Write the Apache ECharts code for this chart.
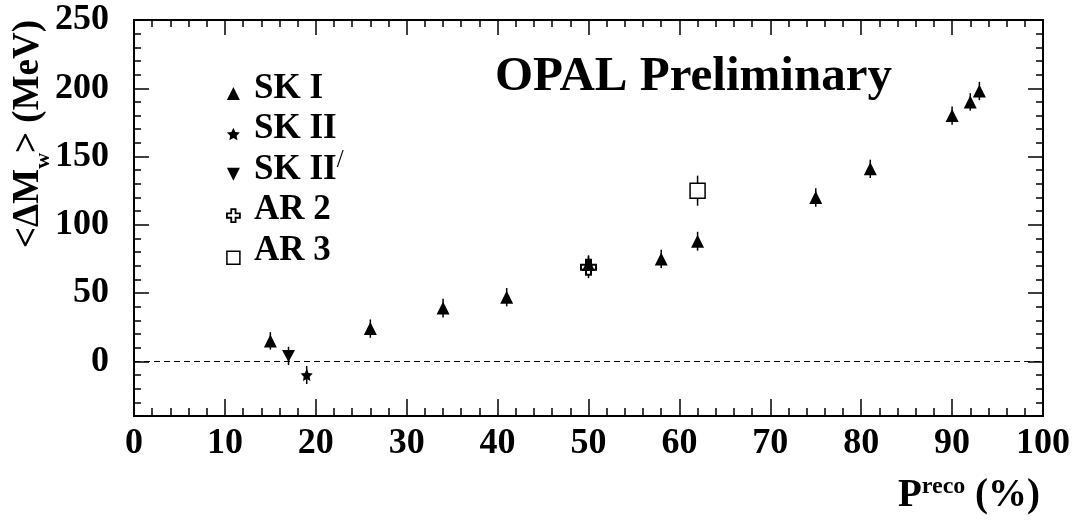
<!DOCTYPE html>
<html><head><meta charset="utf-8">
<script src="https://cdn.jsdelivr.net/npm/echarts@6/dist/echarts.min.js"></script>
<style>html,body{margin:0;padding:0;background:#fff}#c{width:1074px;height:520px}</style>
</head><body><div id="c"></div>
<script>
// ---- data ----
const seriesNames = ['SK I', 'SK II', "SK II'", 'AR 2', 'AR 3'];
const skI_x   = [15, 26, 34, 41, 50, 58, 62, 75, 81, 90, 92, 93];
const skI_y   = [15, 24, 39, 47, 71, 75, 88, 120, 141, 180, 190, 198];
const skI_err = [6.4, 6.7, 6.9, 6.7, 6.7, 6.7, 6.9, 6.8, 6.7, 6.7, 6.4, 6.7];
const skII_x   = [19];
const skII_y   = [-10];
const skII_err = [6.6];
const skIIp_x   = [17];
const skIIp_y   = [4];
const skIIp_err = [6.7];
const ar2_x   = [50];
const ar2_y   = [69];
const ar2_err = [8];
const ar3_x   = [62];
const ar3_y   = [125];
const ar3_err = [11];
const xTickValues = [0, 10, 20, 30, 40, 50, 60, 70, 80, 90, 100];
const yTickValues = [0, 50, 100, 150, 200, 250];
const yMinorValues = [-30, -20, -10, 10, 20, 30, 40, 60, 70, 80, 90, 110, 120, 130, 140, 160, 170, 180, 190, 210, 220, 230, 240];

const FONT = "'Liberation Serif', 'Times New Roman', serif";
const zip = (xs, ys) => xs.map((x, i) => [x, ys[i]]);
const zip3 = (xs, ys, es) => xs.map((x, i) => [x, ys[i], es[i]]);

const errData = [].concat(
  zip3(skI_x, skI_y, skI_err), zip3(skII_x, skII_y, skII_err),
  zip3(skIIp_x, skIIp_y, skIIp_err), zip3(ar2_x, ar2_y, ar2_err),
  zip3(ar3_x, ar3_y, ar3_err));

const STAR = 'path://M0,-10 L2.94,-4.05 9.51,-3.09 4.76,1.55 5.88,8.09 0,5 -5.88,8.09 -4.76,1.55 -9.51,-3.09 -2.94,-4.05 Z';
const DOWN = 'path://M-1,-1 L1,-1 L0,1 Z';
const PLUS = 'path://M-1,-3 L1,-3 L1,-1 L3,-1 L3,1 L1,1 L1,3 L-1,3 L-1,1 L-3,1 L-3,-1 L-1,-1 Z';

const axisLine = { onZero: false, lineStyle: { color: '#000', width: 2 } };
const tickStyle = { color: '#000', width: 1.5 };

function xAx(pos, major, minor, labels) {
  return {
    type: 'value', min: 0, max: 100, interval: 10, position: pos,
    axisLine: axisLine,
    axisTick: { inside: true, length: major, lineStyle: tickStyle },
    minorTick: { show: true, splitNumber: 5, length: minor, lineStyle: tickStyle },
    splitLine: { show: false }, minorSplitLine: { show: false },
    axisLabel: labels ? { show: true, color: '#000', fontFamily: FONT, fontWeight: 'bold', fontSize: 36, margin: 10,
      formatter: v => xTickValues.includes(v) ? String(v) : '' } : { show: false }
  };
}
function yAx(pos, values, len, labels) {
  return {
    type: 'value', min: -40, max: 250, interval: 10, position: pos,
    axisLine: axisLine,
    axisTick: { inside: true, length: len, lineStyle: tickStyle, customValues: values },
    splitLine: { show: false },
    axisLabel: labels ? { show: true, color: '#000', fontFamily: FONT, fontWeight: 'bold', fontSize: 36, margin: 25,
      customValues: values, formatter: v => String(v) } : { show: false }
  };
}

const legendRowsY = [88.5, 129, 169.5, 210, 250.5];
const legendText = ['{n|SK I}', '{n|SK II}', '{n|SK II}{s|/}', '{n|AR 2}', '{n|AR 3}'];

const option = {
  backgroundColor: '#fff',
  animation: false,
  grid: { left: 134, right: 31, top: 20, bottom: 104, containLabel: false },
  xAxis: [xAx('bottom', 17, 8, true), xAx('top', 15, 7, false)],
  yAxis: [
    yAx('left', yTickValues, 15, true),
    yAx('left', yMinorValues, 7, false),
    yAx('right', yTickValues, 15, false),
    yAx('right', yMinorValues, 7, false)
  ],
  legend: {
    orient: 'vertical', left: 221, top: 82, itemWidth: 13, itemHeight: 13, itemGap: 27.5,
    formatter: () => '', textStyle: { fontSize: 8 }, selectedMode: false,
    data: [
      { name: seriesNames[0], icon: 'triangle', itemStyle: { color: '#000', borderWidth: 0 } },
      { name: seriesNames[1], icon: STAR, itemStyle: { color: '#000', borderWidth: 0 } },
      { name: seriesNames[2], icon: DOWN, itemStyle: { color: '#000', borderWidth: 0 } },
      { name: seriesNames[3], icon: PLUS, itemStyle: { color: '#fff', borderColor: '#000', borderWidth: 1.8 } },
      { name: seriesNames[4], icon: 'rect', itemStyle: { color: '#fff', borderColor: '#000', borderWidth: 1.5 } }
    ]
  },
  graphic: [
    { type: 'text', x: 495, y: 77, silent: true,
      style: { text: 'OPAL Preliminary', fill: '#000', font: 'bold 49px ' + FONT, verticalAlign: 'middle', align: 'left' } },
    { type: 'text', x: 28, y: 134, rotation: Math.PI / 2, silent: true,
      style: { text: '{a|<ΔM}{b|w}{a|> (MeV)}', align: 'center', verticalAlign: 'middle',
        rich: { a: { fontFamily: FONT, fontWeight: 'bold', fontSize: 37, fill: '#000', color: '#000' },
                b: { fontFamily: FONT, fontWeight: 'bold', fontSize: 22, fill: '#000', color: '#000', padding: [30, 0, 0, 0] } } } },
    { type: 'text', x: 898, y: 496, silent: true,
      style: { text: '{p|P}{s|reco}{p| (%)}', align: 'left', verticalAlign: 'middle',
        rich: { p: { fontFamily: FONT, fontWeight: 'bold', fontSize: 39, fill: '#000', color: '#000' },
                s: { fontFamily: FONT, fontWeight: 'bold', fontSize: 24, fill: '#000', color: '#000', padding: [0, 0, 18, 0] } } } }
  ].concat(legendText.map((t, i) => ({
    type: 'text', x: 254, y: legendRowsY[i], silent: true,
    style: { text: t, align: 'left', verticalAlign: 'middle',
      rich: { n: { fontFamily: FONT, fontWeight: 'bold', fontSize: 35, fill: '#000', color: '#000' },
              s: { fontFamily: FONT, fontWeight: 'normal', fontSize: 25, fill: '#000', color: '#000', padding: [0, 0, 18, 0] } } }
  }))),
  series: [
    { type: 'custom', name: 'errors', data: errData, z: 1, silent: true,
      encode: { x: 0, y: 1 },
      renderItem: (params, api) => {
        const x = api.value(0), y = api.value(1), e = api.value(2);
        const p1 = api.coord([x, y - e]), p2 = api.coord([x, y + e]);
        return { type: 'line', shape: { x1: p1[0], y1: p1[1], x2: p2[0], y2: p2[1] },
                 style: { stroke: '#000', lineWidth: 1.5 } };
      } },
    { type: 'scatter', name: seriesNames[3], data: zip(ar2_x, ar2_y), symbol: PLUS, symbolSize: 15, z: 3,
      itemStyle: { color: '#fff', borderColor: '#000', borderWidth: 2, opacity: 1 } },
    { type: 'scatter', name: seriesNames[0], data: zip(skI_x, skI_y), symbol: 'triangle', symbolSize: 13, z: 4,
      itemStyle: { color: '#000', opacity: 1 },
      markLine: { silent: true, symbol: 'none', label: { show: false }, animation: false,
        lineStyle: { color: '#000', width: 1, type: [6, 4] }, data: [{ yAxis: 0 }] } },
    { type: 'scatter', name: seriesNames[1], data: zip(skII_x, skII_y), symbol: STAR, symbolSize: 12, z: 4,
      itemStyle: { color: '#000', opacity: 1 } },
    { type: 'scatter', name: seriesNames[2], data: zip(skIIp_x, skIIp_y), symbol: DOWN, symbolSize: [13, 12], z: 4,
      itemStyle: { color: '#000', opacity: 1 } },
    { type: 'scatter', name: seriesNames[4], data: zip(ar3_x, ar3_y), symbol: 'rect', symbolSize: 15, z: 4,
      itemStyle: { color: '#fff', borderColor: '#000', borderWidth: 1.5, opacity: 1 } }
  ]
};
const chart = echarts.init(document.getElementById('c'), null, { renderer: 'canvas' });
chart.setOption(option);
</script></body></html>
